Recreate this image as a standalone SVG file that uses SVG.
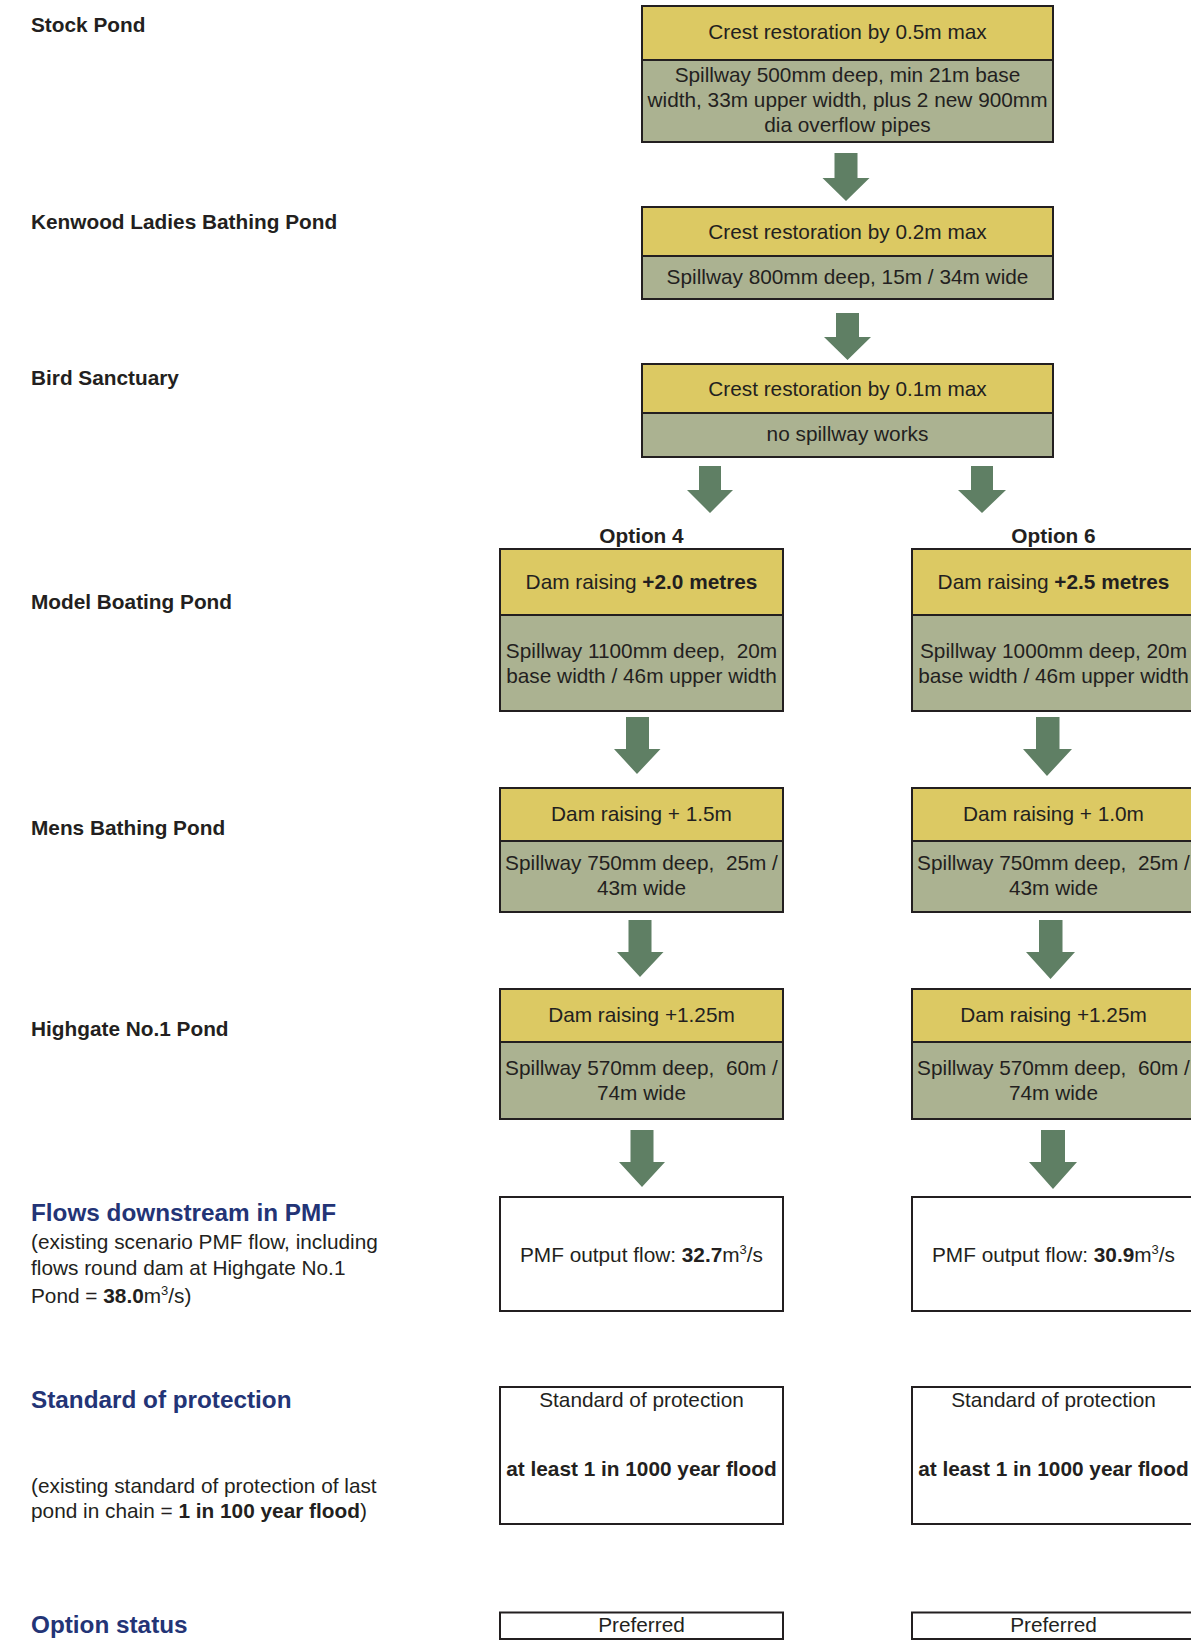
<svg xmlns="http://www.w3.org/2000/svg" width="1191" height="1640" viewBox="0 0 1191 1640">
<style>
text{font-family:"Liberation Sans",Arial,sans-serif;font-size:20.8px;fill:#231f20;white-space:pre}
.c{text-anchor:middle}
.b{font-weight:bold}
.h{font-weight:bold;font-size:24.3px;fill:#233476}
.y{fill:#dcc963;stroke:#231f20;stroke-width:2}
.g{fill:#abb291;stroke:#231f20;stroke-width:2}
.w{fill:#ffffff;stroke:#231f20;stroke-width:2}
.ar{fill:#5f7f64}
.sup{font-size:13px}
</style>
<rect width="1191" height="1640" fill="#ffffff"/>

<g id="labels">
<text x="31" y="31.5" class="b">Stock Pond</text>
<text x="31" y="228.5" class="b">Kenwood Ladies Bathing Pond</text>
<text x="31" y="385" class="b">Bird Sanctuary</text>
<text x="31" y="609" class="b">Model Boating Pond</text>
<text x="31" y="835" class="b">Mens Bathing Pond</text>
<text x="31" y="1036" class="b">Highgate No.1 Pond</text>
<text x="31" y="1220.5" class="h">Flows downstream in PMF</text>
<text x="31" y="1248.5">(existing scenario PMF flow, including</text>
<text x="31" y="1275">flows round dam at Highgate No.1</text>
<text x="31" y="1302.5">Pond = <tspan class="b">38.0</tspan>m<tspan class="sup" dy="-8">3</tspan><tspan dy="8">/s)</tspan></text>
<text x="31" y="1408" class="h">Standard of protection</text>
<text x="31" y="1493">(existing standard of protection of last</text>
<text x="31" y="1518">pond in chain = <tspan class="b">1 in 100 year flood</tspan>)</text>
<text x="31" y="1633" class="h">Option status</text>
<text x="641.5" y="543" class="c b">Option 4</text>
<text x="1053.5" y="543" class="c b">Option 6</text>
</g>

<g id="stock-pond">
<rect x="642" y="6" width="411" height="54" class="y"/>
<rect x="642" y="60" width="411" height="82" class="g"/>
<text x="847.5" y="39" class="c">Crest restoration by 0.5m max</text>
<text x="847.5" y="81.5" class="c">Spillway 500mm deep, min 21m base</text>
<text x="847.5" y="106.5" class="c">width, 33m upper width, plus 2 new 900mm</text>
<text x="847.5" y="131.5" class="c">dia overflow pipes</text>
</g>

<g id="kenwood">
<rect x="642" y="207" width="411" height="49" class="y"/>
<rect x="642" y="256" width="411" height="43" class="g"/>
<text x="847.5" y="238.5" class="c">Crest restoration by 0.2m max</text>
<text x="847.5" y="284" class="c">Spillway 800mm deep, 15m / 34m wide</text>
</g>

<g id="bird-sanctuary">
<rect x="642" y="364" width="411" height="49" class="y"/>
<rect x="642" y="413" width="411" height="44" class="g"/>
<text x="847.5" y="395.5" class="c">Crest restoration by 0.1m max</text>
<text x="847.5" y="440.5" class="c">no spillway works</text>
</g>

<g id="opt4-model-boating">
<rect x="500" y="549" width="283" height="66" class="y"/>
<rect x="500" y="615" width="283" height="96" class="g"/>
<text x="641.5" y="588.5" class="c">Dam raising <tspan class="b">+2.0 metres</tspan></text>
<text x="641.5" y="657.5" class="c">Spillway 1100mm deep,  20m</text>
<text x="641.5" y="682.5" class="c">base width / 46m upper width</text>
</g>

<g id="opt6-model-boating">
<rect x="912" y="549" width="283" height="66" class="y"/>
<rect x="912" y="615" width="283" height="96" class="g"/>
<text x="1053.5" y="588.5" class="c">Dam raising <tspan class="b">+2.5 metres</tspan></text>
<text x="1053.5" y="657.5" class="c">Spillway 1000mm deep, 20m</text>
<text x="1053.5" y="682.5" class="c">base width / 46m upper width</text>
</g>

<g id="opt4-mens">
<rect x="500" y="788" width="283" height="53" class="y"/>
<rect x="500" y="841" width="283" height="71" class="g"/>
<text x="641.5" y="820.5" class="c">Dam raising + 1.5m</text>
<text x="641.5" y="870" class="c">Spillway 750mm deep,  25m /</text>
<text x="641.5" y="895" class="c">43m wide</text>
</g>

<g id="opt6-mens">
<rect x="912" y="788" width="283" height="53" class="y"/>
<rect x="912" y="841" width="283" height="71" class="g"/>
<text x="1053.5" y="820.5" class="c">Dam raising + 1.0m</text>
<text x="1053.5" y="870" class="c">Spillway 750mm deep,  25m /</text>
<text x="1053.5" y="895" class="c">43m wide</text>
</g>

<g id="opt4-highgate">
<rect x="500" y="989" width="283" height="53" class="y"/>
<rect x="500" y="1042" width="283" height="77" class="g"/>
<text x="641.5" y="1021.5" class="c">Dam raising +1.25m</text>
<text x="641.5" y="1075" class="c">Spillway 570mm deep,  60m /</text>
<text x="641.5" y="1099.5" class="c">74m wide</text>
</g>

<g id="opt6-highgate">
<rect x="912" y="989" width="283" height="53" class="y"/>
<rect x="912" y="1042" width="283" height="77" class="g"/>
<text x="1053.5" y="1021.5" class="c">Dam raising +1.25m</text>
<text x="1053.5" y="1075" class="c">Spillway 570mm deep,  60m /</text>
<text x="1053.5" y="1099.5" class="c">74m wide</text>
</g>

<g id="opt4-pmf">
<rect x="500" y="1197" width="283" height="114" class="w"/>
<text x="641.5" y="1262" class="c">PMF output flow: <tspan class="b">32.7</tspan>m<tspan class="sup" dy="-8">3</tspan><tspan dy="8">/s</tspan></text>
</g>

<g id="opt6-pmf">
<rect x="912" y="1197" width="283" height="114" class="w"/>
<text x="1053.5" y="1262" class="c">PMF output flow: <tspan class="b">30.9</tspan>m<tspan class="sup" dy="-8">3</tspan><tspan dy="8">/s</tspan></text>
</g>

<g id="opt4-sop">
<rect x="500" y="1387" width="283" height="137" class="w"/>
<text x="641.5" y="1407" class="c">Standard of protection</text>
<text x="641.5" y="1476" class="c b">at least 1 in 1000 year flood</text>
</g>

<g id="opt6-sop">
<rect x="912" y="1387" width="283" height="137" class="w"/>
<text x="1053.5" y="1407" class="c">Standard of protection</text>
<text x="1053.5" y="1476" class="c b">at least 1 in 1000 year flood</text>
</g>

<g id="opt4-status">
<rect x="500" y="1612.5" width="283" height="26.5" class="w"/>
<text x="641.5" y="1632" class="c">Preferred</text>
</g>

<g id="opt6-status">
<rect x="912" y="1612.5" width="283" height="26.5" class="w"/>
<text x="1053.5" y="1632" class="c">Preferred</text>
</g>

<g id="connectors" class="ar">
<polygon points="834.5,153 857.5,153 857.5,178 869.5,178 846,201 822.5,178 834.5,178"/>
<polygon points="836,313 859,313 859,337 871,337 847.5,360 824,337 836,337"/>
<polygon points="699,466 721,466 721,490 733,490 710,513 687,490 699,490"/>
<polygon points="971,466 993,466 993,490 1006,490 982,513 958,490 971,490"/>
<polygon points="626,717 649,717 649,749 660.5,749 637,774 614,749 626,749"/>
<polygon points="1036,717 1059.5,717 1059.5,749 1072,749 1047,776 1023,749 1036,749"/>
<polygon points="628.5,920 651.5,920 651.5,952 663.5,952 640,977 617,952 628.5,952"/>
<polygon points="1039,920 1062.5,920 1062.5,952 1075,952 1050.5,979 1026,952 1039,952"/>
<polygon points="630.5,1130 653.5,1130 653.5,1162 665,1162 642,1187 619,1162 630.5,1162"/>
<polygon points="1041,1130 1065,1130 1065,1162 1077,1162 1053,1189 1029,1162 1041,1162"/>
</g>
</svg>
